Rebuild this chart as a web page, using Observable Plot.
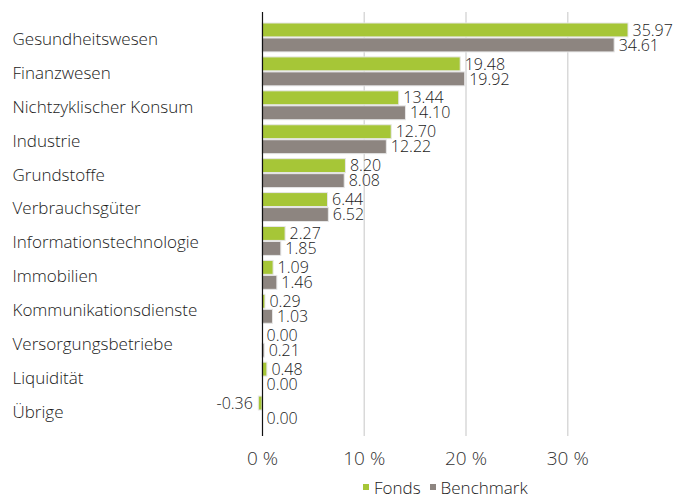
<!DOCTYPE html>
<html>
<head>
<meta charset="utf-8">
<script src="https://cdn.jsdelivr.net/npm/d3@7"></script>
<script src="https://cdn.jsdelivr.net/npm/@observablehq/plot@0.6"></script>
<style>
  body { margin: 0; background: #fff; font-family: "Open Sans", "Noto Sans", sans-serif; font-weight: 300; }
  #legend { display: flex; align-items: center; font-size: 17px; color: #1a1a1a; padding-left: 363px; height: 24px; }
  #legend .sw { width: 6px; height: 6px; display: inline-block; margin-right: 5px; }
  #legend .item { display: flex; align-items: center; margin-right: 9px; }
  svg text { font-weight: 300; }
</style>
</head>
<body>
<div id="chart"></div>
<script>
const categories = ["Gesundheitswesen", "Finanzwesen", "Nichtzyklischer Konsum", "Industrie", "Grundstoffe", "Verbrauchsgüter", "Informationstechnologie", "Immobilien", "Kommunikationsdienste", "Versorgungsbetriebe", "Liquidität", "Übrige"];
const fonds = [35.97, 19.48, 13.44, 12.70, 8.20, 6.44, 2.27, 1.09, 0.29, 0.00, 0.48, -0.36];
const benchmark = [34.61, 19.92, 14.10, 12.22, 8.08, 6.52, 1.85, 1.46, 1.03, 0.21, 0.00, 0.00];
const seriesNames = ["Fonds", "Benchmark"];
const xTicks = [0, 10, 20, 30];
const colors = {Fonds: "#a6c637", Benchmark: "#8d8580"};

const fData = categories.map((c, i) => ({cat: c, v: fonds[i]}));
const bData = categories.map((c, i) => ({cat: c, v: benchmark[i]}));
const fmt = v => v.toFixed(2);

const plot = Plot.plot({
  width: 689,
  height: 475,
  marginLeft: 262,
  marginRight: 20,
  marginTop: 20,
  marginBottom: 48,
  style: {fontFamily: "'Open Sans', 'Noto Sans', sans-serif", background: "#fff"},
  x: {domain: [0, 40], ticks: xTicks},
  y: {domain: categories, padding: 0, round: false},
  marks: [
    Plot.ruleX(xTicks.filter(t => t !== 0), {stroke: "#d9d9d9", strokeWidth: 1.5, insetTop: -8, insetBottom: -9}),
    Plot.barX(fData, {x: "v", y: "cat", fill: colors.Fonds, stroke: "#e6e6e6", strokeWidth: 1, insetTop: 3, insetBottom: 17}),
    Plot.barX(bData, {x: "v", y: "cat", fill: colors.Benchmark, stroke: "#e6e6e6", strokeWidth: 1, insetTop: 18, insetBottom: 2}),
    Plot.ruleX([0], {stroke: "#111", strokeWidth: 1.2, insetTop: -8, insetBottom: -9}),
    Plot.text(fData.filter(d => d.v >= 0), {x: "v", y: "cat", text: d => fmt(d.v), dy: -7, dx: 4, textAnchor: "start", fontSize: 16, fill: "#1a1a1a"}),
    Plot.text(fData.filter(d => d.v < 0), {x: "v", y: "cat", text: d => fmt(d.v), dy: -7, dx: -6, textAnchor: "end", fontSize: 16, fill: "#1a1a1a"}),
    Plot.text(bData, {x: "v", y: "cat", text: d => fmt(d.v), dy: 8, dx: 4, textAnchor: "start", fontSize: 16, fill: "#1a1a1a"}),
    Plot.axisY({tickSize: 0, tickPadding: 0, textAnchor: "start", dx: -250, dy: 2, fontSize: 17, fill: "#1a1a1a", label: null}),
    Plot.axisX({ticks: xTicks, tickSize: 0, tickPadding: 24, tickFormat: d => d + " %", fontSize: 19, fill: "#333", label: null})
  ]
});
document.getElementById("chart").appendChild(plot);

const legend = document.createElement("div");
legend.id = "legend";
seriesNames.forEach(n => {
  const it = document.createElement("span");
  it.className = "item";
  it.innerHTML = `<span class="sw" style="background:${colors[n]}"></span>${n}`;
  legend.appendChild(it);
});
document.body.appendChild(legend);
</script>
</body>
</html>
